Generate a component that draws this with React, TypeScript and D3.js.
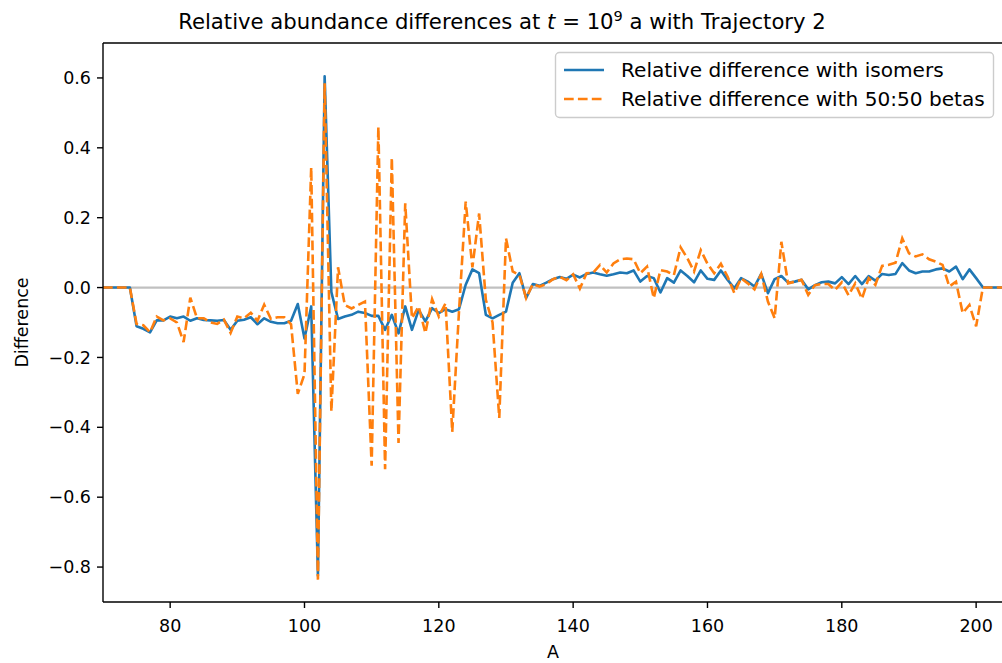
import React from "react";
import * as d3 from "d3";

const massNumbers: number[] = d3.range(70, 206);

const isomerDiff: number[] = [
  // 70-79
  0, 0, 0, 0, 0, -0.111, -0.118, -0.128, -0.094, -0.094,
  // 80-89
  -0.083, -0.088, -0.083, -0.095, -0.088, -0.093, -0.094, -0.095, -0.093, -0.121,
  // 90-99
  -0.095, -0.092, -0.085, -0.105, -0.088, -0.098, -0.102, -0.102, -0.095, -0.047,
  // 100-109
  -0.146, -0.054, -0.825, 0.605, -0.013, -0.09, -0.083, -0.078, -0.069, -0.073,
  // 110-119
  -0.081, -0.081, -0.121, -0.078, -0.131, -0.054, -0.121, -0.064, -0.097, -0.059,
  // 120-129
  -0.073, -0.062, -0.069, -0.062, 0.008, 0.052, 0.041, -0.078, -0.088, -0.078,
  // 130-139
  -0.069, 0.014, 0.041, -0.03, 0.01, 0.005, 0.014, 0.024, 0.03, 0.025,
  // 140-149
  0.037, 0.029, 0.039, 0.043, 0.038, 0.034, 0.038, 0.043, 0.041, 0.049,
  // 150-159
  0.017, 0.033, 0.027, -0.014, 0.027, 0.014, 0.049, 0.033, 0.015, 0.049,
  // 160-169
  0.025, 0.022, 0.049, 0.022, -0.002, 0.027, 0.017, 0.003, 0.039, -0.016,
  // 170-179
  0.024, 0.033, 0.014, 0.017, 0.022, -0.005, 0.007, 0.015, 0.017, 0.012,
  // 180-189
  0.03, 0.01, 0.033, 0.01, 0.033, 0.02, 0.039, 0.036, 0.039, 0.07,
  // 190-199
  0.049, 0.041, 0.046, 0.046, 0.052, 0.055, 0.046, 0.06, 0.024, 0.052,
  // 200-205
  0.027, 0.001, 0, 0, 0, 0,
];

const betaDiff: number[] = [
  // 70-79
  0, 0, 0, 0, 0, -0.104, -0.108, -0.128, -0.083, -0.094,
  // 80-89
  -0.088, -0.1, -0.156, -0.029, -0.088, -0.088, -0.1, -0.104, -0.092, -0.13,
  // 90-99
  -0.083, -0.088, -0.072, -0.095, -0.049, -0.09, -0.085, -0.085, -0.105, -0.304,
  // 100-109
  -0.248, 0.344, -0.836, 0.585, -0.355, 0.058, -0.05, -0.06, -0.05, -0.04,
  // 110-119
  -0.51, 0.46, -0.52, 0.372, -0.445, 0.241, -0.088, -0.054, -0.13, -0.033,
  // 120-129
  -0.083, -0.045, -0.413, -0.07, 0.246, 0.058, 0.212, -0.035, -0.1, -0.373,
  // 130-139
  0.141, 0.046, 0.036, -0.03, 0.01, 0.003, 0.01, 0.024, 0.031, 0.021,
  // 140-149
  0.038, -0.003, 0.041, 0.043, 0.065, 0.043, 0.069, 0.081, 0.083, 0.081,
  // 150-159
  0.041, 0.06, -0.03, 0.05, 0.046, 0.036, 0.115, 0.084, 0.046, 0.107,
  // 160-169
  0.068, 0.041, 0.068, 0.031, -0.016, 0.027, 0.012, -0.005, 0.039, -0.04,
  // 170-179
  -0.088, 0.131, 0.012, 0.017, 0.022, -0.021, 0.007, 0.01, 0.01, -0.007,
  // 180-189
  0.015, -0.022, 0.012, -0.032, 0.027, 0.008, 0.062, 0.065, 0.071, 0.141,
  // 190-199
  0.098, 0.089, 0.095, 0.081, 0.074, 0.065, 0.003, 0.017, -0.073, -0.05,
  // 200-205
  -0.111, 0, 0, 0, 0, 0,
];

const xTicks: number[] = [80, 100, 120, 140, 160, 180, 200];
const yTicks: number[] = [0.6, 0.4, 0.2, 0.0, -0.2, -0.4, -0.6, -0.8];
const seriesLabels: string[] = [
  "Relative difference with isomers",
  "Relative difference with 50:50 betas",
];

const W = 1002;
const H = 663;
const left = 103;
const right = 1003;
const top = 43;
const bottom = 602;
const FONT = "'DejaVu Sans', sans-serif";
const BLUE = "#1f77b4";
const ORANGE = "#ff7f0e";

function fmt(v: number): string {
  const s = v.toFixed(1);
  return s.startsWith("-") ? "\u2212" + s.slice(1) : s;
}

export default function App() {
  const x = d3.scaleLinear().domain([70, 204]).range([left, right]);
  const y = d3.scaleLinear().domain([-0.9, 0.7]).range([bottom, top]);

  const lineGen = d3
    .line<number>()
    .x((_, i) => x(massNumbers[i]))
    .y((d) => y(d));

  return (
    <svg
      width={W}
      height={H}
      style={{ position: "absolute", left: 0, top: 0, background: "#fff" }}
      fontFamily={FONT}
    >
      <defs>
        <clipPath id="plotclip">
          <rect x={left} y={top} width={right - left} height={bottom - top} />
        </clipPath>
      </defs>
      <rect x={0} y={0} width={W} height={H} fill="#fff" />

      {/* zero line */}
      <line
        x1={left}
        x2={right}
        y1={y(0)}
        y2={y(0)}
        stroke="#c0c0c0"
        strokeWidth={2.2}
      />

      <g clipPath="url(#plotclip)">
        <path
          d={lineGen(isomerDiff) || ""}
          fill="none"
          stroke={BLUE}
          strokeWidth={2.6}
          strokeLinejoin="round"
        />
        <path
          d={lineGen(betaDiff) || ""}
          fill="none"
          stroke={ORANGE}
          strokeWidth={2.6}
          strokeDasharray="9.7,4.2"
        />
      </g>

      {/* spines */}
      <line x1={left} x2={left} y1={top} y2={bottom} stroke="#000" strokeWidth={1.4} />
      <line x1={left} x2={right} y1={bottom} y2={bottom} stroke="#000" strokeWidth={1.4} />
      <line x1={left} x2={right} y1={top} y2={top} stroke="#000" strokeWidth={1.4} />

      {/* x ticks */}
      {xTicks.map((t) => (
        <g key={"x" + t}>
          <line x1={x(t)} x2={x(t)} y1={bottom} y2={bottom + 6} stroke="#000" strokeWidth={1.4} />
          <text x={x(t)} y={bottom + 30} textAnchor="middle" fontSize={17.5} fill="#000">
            {t}
          </text>
        </g>
      ))}

      {/* y ticks */}
      {yTicks.map((t) => (
        <g key={"y" + t}>
          <line x1={left - 6} x2={left} y1={y(t)} y2={y(t)} stroke="#000" strokeWidth={1.4} />
          <text
            x={left - 12}
            y={y(t)}
            dy="0.35em"
            textAnchor="end"
            fontSize={17.5}
            fill="#000"
          >
            {fmt(t)}
          </text>
        </g>
      ))}

      {/* axis labels */}
      <text x={(left + right) / 2} y={658} textAnchor="middle" fontSize={17.5} fill="#000">
        A
      </text>
      <text
        transform={`translate(28, ${(top + bottom) / 2}) rotate(-90)`}
        textAnchor="middle"
        fontSize={17.5}
        fill="#000"
      >
        Difference
      </text>

      {/* title */}
      <text x={502} y={29} textAnchor="middle" fontSize={21.2} fill="#000">
        Relative abundance differences at{" "}
        <tspan fontStyle="italic">t</tspan> = 10
        <tspan fontSize={14.5} dy={-8}>9</tspan>
        <tspan dy={8}> a with Trajectory 2</tspan>
      </text>

      {/* legend */}
      <g>
        <rect
          x={555.5}
          y={52.5}
          width={438}
          height={65}
          rx={4}
          fill="#fff"
          fillOpacity={0.8}
          stroke="#cccccc"
          strokeWidth={1.4}
        />
        <line x1={564} x2={604} y1={70} y2={70} stroke={BLUE} strokeWidth={2.6} />
        <text x={621} y={70} dy="0.35em" fontSize={20.1} fill="#000">
          {seriesLabels[0]}
        </text>
        <line
          x1={564}
          x2={604}
          y1={99}
          y2={99}
          stroke={ORANGE}
          strokeWidth={2.6}
          strokeDasharray="9.7,4.2"
        />
        <text x={621} y={99} dy="0.35em" fontSize={20.1} fill="#000">
          {seriesLabels[1]}
        </text>
      </g>
    </svg>
  );
}
